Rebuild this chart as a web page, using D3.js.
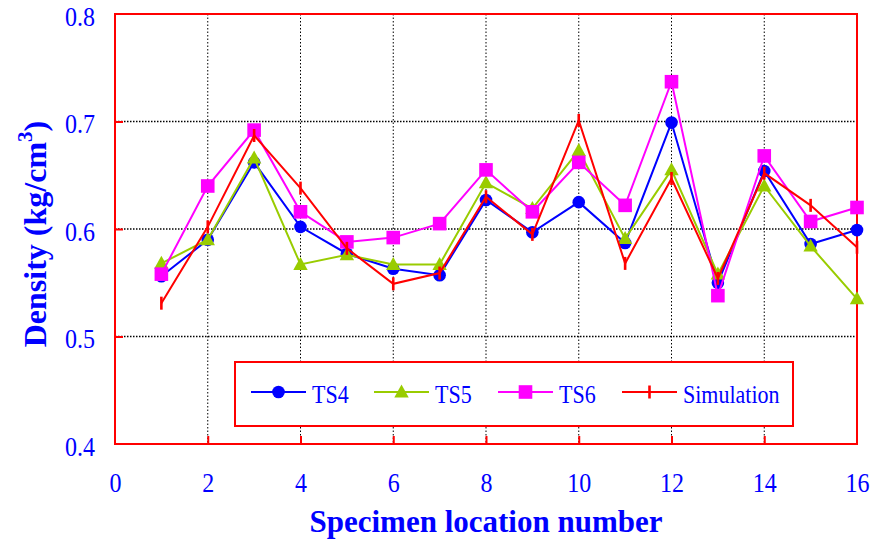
<!DOCTYPE html>
<html>
<head>
<meta charset="utf-8">
<script src="https://cdn.jsdelivr.net/npm/d3@7/dist/d3.min.js"></script>
<style>
  html, body { margin: 0; padding: 0; background: #fff; }
  svg { display: block; }
  text { font-family: "Liberation Serif", "Times New Roman", serif; fill: #0000ff; }
</style>
</head>
<body>
<svg id="chart" width="873" height="544"></svg>
<script>
// Specimen locations along the x axis
const locations = [1, 2, 3, 4, 5, 6, 7, 8, 9, 10, 11, 12, 13, 14, 15, 16];

// Measured densities (kg/cm^3) for each test set and the simulated values
const ts4 = [0.556, 0.590, 0.662, 0.602, 0.577, 0.563, 0.557, 0.627, 0.597, 0.625, 0.587, 0.699, 0.550, 0.654, 0.586, 0.599];
const ts5 = [0.568, 0.590, 0.666, 0.567, 0.576, 0.567, 0.567, 0.643, 0.619, 0.673, 0.591, 0.655, 0.558, 0.640, 0.584, 0.535];
const ts6 = [0.558, 0.640, 0.692, 0.616, 0.588, 0.592, 0.605, 0.655, 0.616, 0.662, 0.622, 0.737, 0.538, 0.668, 0.607, 0.620];
const simulation = [0.531, 0.602, 0.687, 0.638, 0.582, 0.549, 0.559, 0.630, 0.595, 0.701, 0.568, 0.647, 0.554, 0.652, 0.622, 0.583];

const seriesNames = ["TS4", "TS5", "TS6", "Simulation"];
const seriesColors = ["#0000ff", "#99cc00", "#ff00ff", "#ff0000"];
const seriesMarkers = ["circle", "triangle", "square", "tick"];

const xTicks = [0, 2, 4, 6, 8, 10, 12, 14, 16];
const yTicks = [0.4, 0.5, 0.6, 0.7, 0.8];

const xTitle = "Specimen location number";
const yTitle = "Density (kg/cm";

const svg = d3.select("#chart");
const plot = { left: 115, right: 857, top: 14, bottom: 444 };
const stretch = "scale(1,1.15)";

const x = d3.scaleLinear().domain([0, 16]).range([plot.left, plot.right]);
const y = d3.scaleLinear().domain([0.4, 0.8]).range([plot.bottom, plot.top]);

// Dotted grid
const grid = svg.append("g");
grid.selectAll("line.vg").data(xTicks.slice(1, -1)).join("line")
  .attr("x1", d => x(d)).attr("x2", d => x(d))
  .attr("y1", plot.top).attr("y2", plot.bottom)
  .attr("stroke", "#000").attr("stroke-width", 1).attr("stroke-dasharray", "1.5,2");
grid.selectAll("line.hg").data(yTicks.slice(1, -1)).join("line")
  .attr("x1", plot.left).attr("x2", plot.right)
  .attr("y1", d => y(d)).attr("y2", d => y(d))
  .attr("stroke", "#000").attr("stroke-width", 1.3).attr("stroke-dasharray", "1.5,1.5");

// Axes: red inward ticks, blue labels
const xAxis = d3.axisBottom(x).tickValues(xTicks).tickSize(-8).tickFormat(d3.format("d"));
const yAxis = d3.axisLeft(y).tickValues(yTicks).tickSize(-8).tickFormat(d3.format(".1f"));

const gx = svg.append("g").attr("transform", `translate(0,${plot.bottom})`).call(xAxis);
const gy = svg.append("g").attr("transform", `translate(${plot.left},0)`).call(yAxis);
[gx, gy].forEach(g => {
  g.select(".domain").remove();
  g.selectAll(".tick line").attr("stroke", "#ff0000").attr("stroke-width", 2);
  g.selectAll(".tick text").attr("fill", "#0000ff")
    .style("font-family", '"Liberation Serif", serif').style("font-size", "24px")
    .attr("x", 0).attr("y", 0).attr("dy", null);
});
gx.selectAll(".tick text").attr("transform", `translate(0,48) ${stretch}`);
gy.selectAll(".tick text").attr("transform", `translate(-20,11) ${stretch}`);
gx.selectAll(".tick").filter(d => d === 0 || d === 16).select("line").remove();
gy.selectAll(".tick").filter(d => d === 0.4 || d === 0.8).select("line").remove();

// Frame
svg.append("rect")
  .attr("x", plot.left).attr("y", plot.top)
  .attr("width", plot.right - plot.left).attr("height", plot.bottom - plot.top)
  .attr("fill", "none").attr("stroke", "#ff0000").attr("stroke-width", 2);

// Marker drawing helper
function drawMarker(g, kind, color, cx, cy) {
  if (kind === "circle") {
    g.append("circle").attr("cx", cx).attr("cy", cy).attr("r", 6.3).attr("fill", color);
  } else if (kind === "triangle") {
    const s = 7.2;
    g.append("path")
      .attr("d", `M${cx},${cy - s * 1.05}L${cx + s},${cy + s * 0.75}L${cx - s},${cy + s * 0.75}Z`)
      .attr("fill", color);
  } else if (kind === "square") {
    g.append("rect").attr("x", cx - 6.8).attr("y", cy - 6.8).attr("width", 13.6).attr("height", 13.6).attr("fill", color);
  } else {
    g.append("line").attr("x1", cx).attr("x2", cx).attr("y1", cy - 6.5).attr("y2", cy + 6.5)
      .attr("stroke", color).attr("stroke-width", 2.6);
  }
}

// Series lines with markers
const allSeries = [ts4, ts5, ts6, simulation];
const line = d3.line().x(d => x(d[0])).y(d => y(d[1]));
allSeries.forEach((vals, i) => {
  const g = svg.append("g");
  const pts = locations.map((loc, j) => [loc, vals[j]]);
  g.append("path").datum(pts).attr("d", line)
    .attr("fill", "none").attr("stroke", seriesColors[i]).attr("stroke-width", 2)
    .attr("stroke-linejoin", "miter");
  pts.forEach(p => drawMarker(g, seriesMarkers[i], seriesColors[i], x(p[0]), y(p[1])));
});

// Legend
const legend = svg.append("g");
legend.append("rect").attr("x", 235).attr("y", 362).attr("width", 558).attr("height", 64)
  .attr("fill", "#fff").attr("stroke", "#ff0000").attr("stroke-width", 2);
const legendX = [251, 374, 498, 622];
const legendY = 392;
seriesNames.forEach((name, i) => {
  const g = legend.append("g");
  const x0 = legendX[i];
  g.append("line").attr("x1", x0).attr("x2", x0 + 55).attr("y1", legendY).attr("y2", legendY)
    .attr("stroke", seriesColors[i]).attr("stroke-width", 2);
  drawMarker(g, seriesMarkers[i], seriesColors[i], x0 + 27.5, legendY);
  g.append("text").attr("transform", `translate(${x0 + 61},403) ${stretch}`)
    .style("font-size", "22px").text(name);
});

// Axis titles
svg.append("text").attr("x", (plot.left + plot.right) / 2).attr("y", 532)
  .attr("text-anchor", "middle").style("font-size", "31px").style("font-weight", "bold")
  .text(xTitle);

const yt = svg.append("text")
  .attr("transform", `translate(46,234) rotate(-90)`)
  .attr("text-anchor", "middle").style("font-size", "32px").style("font-weight", "bold");
yt.append("tspan").text(yTitle);
yt.append("tspan").attr("dy", -14).style("font-size", "21px").text("3");
yt.append("tspan").attr("dy", 14).text(")");
</script>
</body>
</html>
